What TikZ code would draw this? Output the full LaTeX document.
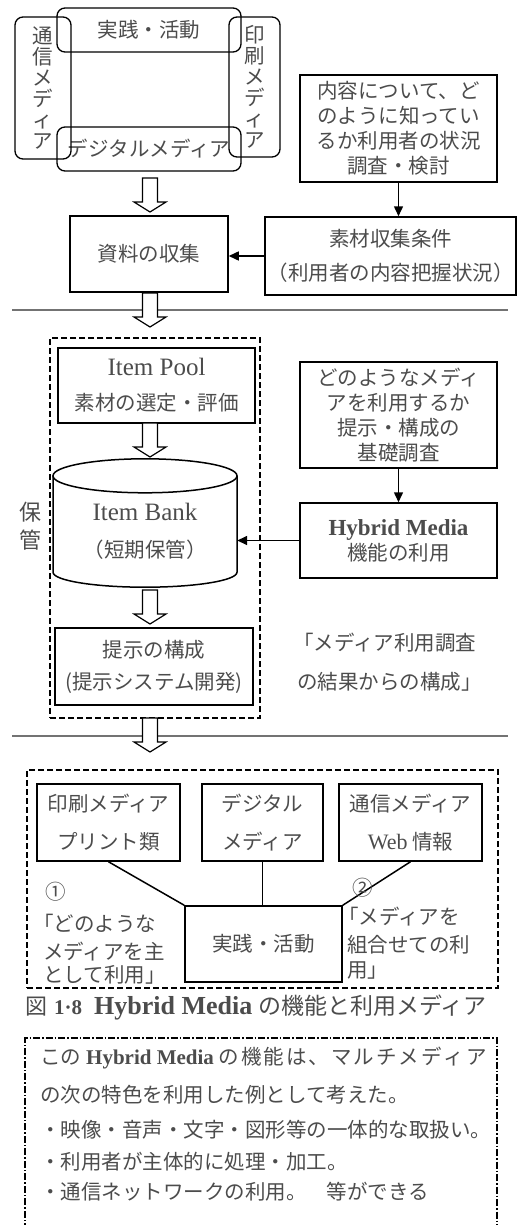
\documentclass[tikz,border=0pt]{standalone}
\usepackage{fontspec}
\setmainfont{Liberation Serif}
\newfontfamily\jp{Noto Sans CJK JP}
\usetikzlibrary{arrows.meta,calc}
\newcommand\jpfs[1]{\jp\fontsize{20.5}{#1}\selectfont}
\newcommand\LatTx[2]{{\rmfamily\fontsize{#1}{#1}\selectfont #2}}
\begin{document}
\begin{tikzpicture}[x=1pt,y=-1pt,
  box/.style={draw, line width=1.5pt, inner sep=0pt, align=center, text=black!70, font=\jpfs{25}},
  rbox/.style={box, rounded corners=8pt, line width=1.3pt},
  dbox/.style={draw, line width=1.5pt, dash pattern=on 6pt off 3pt, inner sep=0pt},
  hollow/.pic={\draw[line width=1.2pt, fill=white]
     (-7.5,-17) -- (7.5,-17) -- (7.5,7) -- (16,7) -- (0,17) -- (-16,7) -- (-7.5,7) -- cycle;},
  arr/.style={line width=1.5pt, -{Triangle[length=10pt,width=9pt]}},
  lbl/.style={anchor=west, inner sep=0pt, text=black!70, font=\jpfs{25}},
  sepline/.style={line width=1.5pt, black!55},
  plain/.style={line width=1.5pt}
]
\useasboundingbox (0,0) rectangle (518,1225);

% ---- top section
\node[rbox, minimum width=184pt, minimum height=44pt] (jtop) at (149,30) {実践・活動};
\node[rbox, minimum width=184pt, minimum height=44pt] (jdig) at (149,149) {デジタルメディア};
\node[rbox, minimum width=56pt, minimum height=142pt, font=\jpfs{21}] (jtsu) at (43,88) {通\\信\\メ\\デ\\ィ\\ア};
\node[rbox, minimum width=51pt, minimum height=140pt, font=\jpfs{21}] (jins) at (254.5,87) {印\\刷\\メ\\デ\\ィ\\ア};

\node[box, minimum width=197pt, minimum height=107pt] (naiyo) at (398.5,128.5)
  {内容について、ど\\のように知ってい\\るか利用者の状況\\調査・検討};
\node[box, minimum width=251pt, minimum height=78pt, font=\jpfs{34}] (sozai) at (390.5,256)
  {素材収集条件\\（利用者の内容把握状況）};
\node[box, minimum width=158pt, minimum height=76pt] (shiryo) at (149,254) {資料の収集};

\draw[arr] (naiyo.south) -- (naiyo.south |- sozai.north);
\draw[arr] (sozai.west) -- (sozai.west -| shiryo.east);

\pic (h1) at (150,195) {hollow};
\draw[sepline] (12,310) -- (508,310);
\pic (h2) at (150,310) {hollow};

% ---- middle section
\node[dbox, minimum width=210pt, minimum height=380pt] (hokan) at (155,528) {};
\node[box, minimum width=197pt, minimum height=75pt, font=\jpfs{35}] (pool) at (156.5,385.5)
  {\LatTx{25}{Item Pool}\\素材の選定・評価};
\pic (h3) at (150,440) {hollow};

\node[inner sep=0pt, minimum width=184pt, minimum height=96pt, align=center, text=black!70, font=\jpfs{37}] (bank) at (145,531)
  {\LatTx{25}{Item Bank}\\（短期保管）};
\coordinate (btop) at ($(bank.north)+(0,-7)$);
\coordinate (bbot) at ($(bank.south)+(0,-7)$);
\draw[plain] (btop) ellipse[x radius=92pt, y radius=17pt];
\draw[plain] ($(btop)+(-92,0)$) -- ($(bbot)+(-92,0)$)
   arc[start angle=180, end angle=360, x radius=92pt, y radius=15pt] -- ($(btop)+(92,0)$);

\pic (h4) at (150,607) {hollow};
\node[box, minimum width=198pt, minimum height=77pt, font=\jpfs{32}] (teiji) at (154,666.5)
  {提示の構成\\(提示システム開発)};

\node[inner sep=0pt, align=center, text=black!70, font={\jp\fontsize{22}{28}\selectfont}] (hk) at (30,526) {保\\管};

\node[box, minimum width=197pt, minimum height=106pt] (dono) at (398.5,415)
  {どのようなメディ\\アを利用するか\\提示・構成の\\基礎調査};
\node[box, minimum width=197pt, minimum height=75pt] (hyb) at (398.5,540.5)
  {\LatTx{23}{\bfseries Hybrid Media}\\機能の利用};
\draw[arr] (dono.south) -- (hyb.north);
\draw[arr] (hyb.west) -- (hyb.west -| bank.east);

\node[lbl] (k1) at (293,643) {「メディア利用調査};
\node[lbl] (k2) at (297,682) {の結果からの構成」};

\draw[sepline] (12,736) -- (508,736);
\pic (h5) at (150,735) {hollow};

% ---- lower section
\node[dbox, minimum width=471pt, minimum height=218pt] (low) at (262.5,879) {};
\node[box, minimum width=143pt, minimum height=77pt, font=\jpfs{38}] (pB) at (108.5,822.5) {印刷メディア\\プリント類};
\node[box, minimum width=121pt, minimum height=77pt, font=\jpfs{38}] (dB) at (262.5,822.5) {デジタル\\メディア};
\node[box, minimum width=143pt, minimum height=77pt, font=\jpfs{38}] (tB) at (410.5,822.5) {通信メディア\\\LatTx{22}{Web} 情報};
\node[box, minimum width=157pt, minimum height=76pt] (jis) at (263.5,944) {実践・活動};
\draw[plain] (pB.south) -- (jis.north west);
\draw[line width=1.2pt] (dB.south) -- (dB.south |- jis.north);
\draw[plain] (tB.south) -- (jis.north east);

\node[lbl] (c1) at (45,892) {①};
\node[lbl] (l1a) at (33,923) {「どのような};
\node[lbl] (l1b) at (43,952) {メディアを主};
\node[lbl] (l1c) at (43,975) {として利用」};
\node[lbl] (c2) at (352,888) {②};
\node[lbl] (r1a) at (338,917) {「メディアを};
\node[lbl] (r1b) at (347,945) {組合せての利};
\node[lbl] (r1c) at (347,970) {用」};

% ---- caption
\node[lbl, font={\jp\fontsize{23}{25}\selectfont}] (cap) at (25,1007)
  {\fontsize{22}{25}\selectfont 図\hspace{7pt}\LatTx{21}{\bfseries 1·8}\hspace{12pt}\LatTx{26}{\bfseries Hybrid Media}\hspace{6pt}\fontsize{23}{25}\selectfont の機能と利用メディア};

% ---- note box
\draw[line width=1.2pt, dash pattern=on 7pt off 2pt on 1.5pt off 2pt]
  (25,1230) -- (25,1038) -- (497,1038) -- (497,1230);
\node[lbl] (t1) at (40,1058) {この\hspace{5pt}\LatTx{21}{\bfseries Hybrid Media}\hspace{5pt}\makebox[268pt][s]{の\hfill 機\hfill 能\hfill は\hfill 、\hfill マ\hfill ル\hfill チ\hfill メ\hfill デ\hfill ィ\hfill ア}};
\node[lbl] (t2) at (40,1095) {の次の特色を利用した例として考えた。};
\node[lbl] (t3) at (40,1130) {・映像・音声・文字・図形等の一体的な取扱い。};
\node[lbl] (t4) at (40,1162) {・利用者が主体的に処理・加工。};
\node[lbl] (t5) at (40,1192) {・通信ネットワークの利用。\hspace{20pt}等ができる};
\end{tikzpicture}
\end{document}
